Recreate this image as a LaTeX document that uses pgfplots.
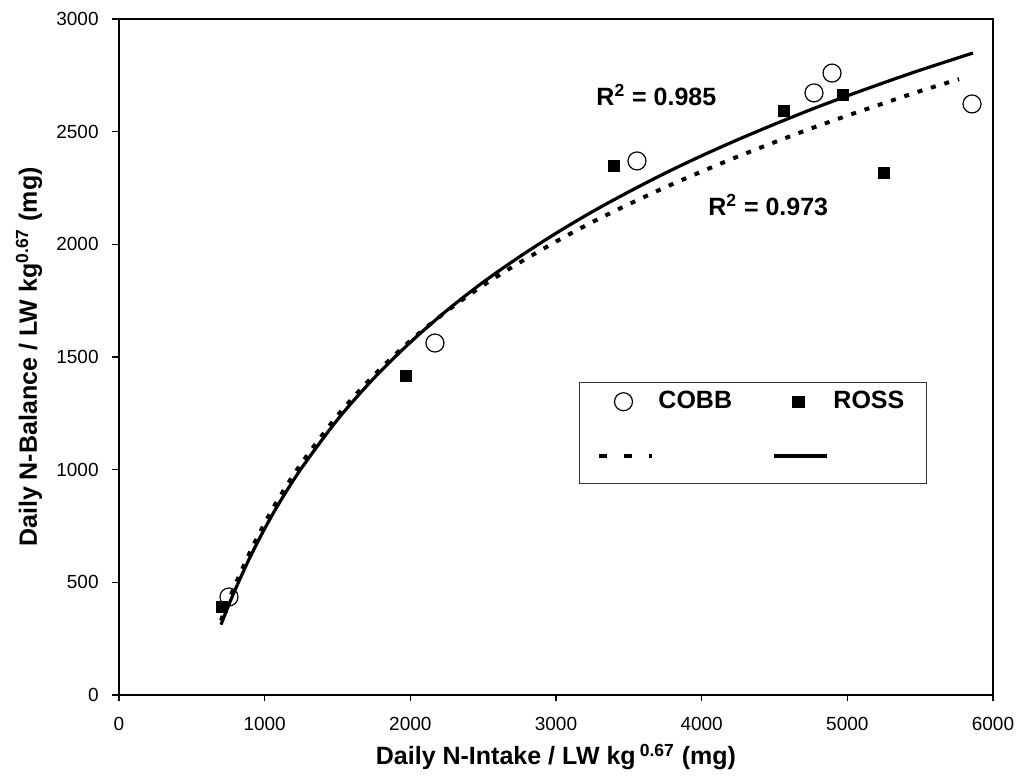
\documentclass[border=0pt]{standalone}
\usepackage{fontspec}
\setmainfont{Liberation Sans}
\usepackage{pgfplots}
\pgfplotsset{compat=1.18}

\newcommand{\boldlabel}{\bfseries\fontsize{12.5}{14}\selectfont}

% legend images: marks centred in a 26.5pt cell, lines across it
\pgfplotsset{
  markimg/.style={legend image code/.code={
    \path[draw=none, fill=none] (0pt,-4.5pt) rectangle (26.5pt,4.5pt);
    \draw[mark repeat=2, mark phase=2, ##1] plot coordinates {(-1pt,0pt) (12pt,0pt) (25pt,0pt)};
  }},
  lineimg/.style={legend image code/.code={
    \path[draw=none, fill=none] (0pt,-9.5pt) rectangle (26.5pt,4pt);
    \draw[##1] (0pt,0pt) -- (26.5pt,0pt);
  }},
}

\begin{document}
\begin{tikzpicture}
\begin{axis}[
  scale only axis,
  width=437pt, height=338pt,
  xmin=0, xmax=6000, ymin=0, ymax=3000,
  xtick={0,1000,...,6000}, ytick={0,500,...,3000},
  xtick pos=left, ytick pos=left,
  tick align=outside,
  major tick length=3.25pt,
  axis line style={line width=0.8pt},
  tick style={line width=0.8pt, black},
  /pgf/number format/assume math mode=true,
  /pgf/number format/1000 sep={},
  ticklabel style={font=\fontsize{9.5}{11}\selectfont, inner sep=0pt},
  xticklabel style={anchor=north, yshift=-7.5pt},
  yticklabel style={anchor=east, xshift=-6.75pt},
  xlabel={Daily N-Intake / LW kg\,\textsuperscript{0.67} (mg)},
  ylabel={Daily N-Balance / LW kg\textsuperscript{0.67} (mg)},
  label style={font=\boldlabel},
  xlabel style={at={([yshift=-31pt]axis description cs:0.5,0)}, anchor=center},
  ylabel style={at={([xshift=-45pt]axis description cs:0,0.5)}, anchor=center},
  legend columns=2,
  legend style={
    at={(0.5263,0.463)}, anchor=north west,
    draw=black!80, line width=0.5pt,
    inner xsep=9pt, inner ysep=4.5pt,
    column sep=2pt, row sep=18pt,
    /tikz/every even column/.append style={column sep=19.5pt},
    nodes={inner sep=0pt, text width=37.5pt, align=left, font=\boldlabel},
  },
]

% fitted trend curves
\addplot[black, line width=2pt, dash pattern=on 2.5pt off 4.5pt, smooth, forget plot]
  coordinates {
    (700,330) (750,414) (800,492) (900,635) (1000,762) (1100,876)
    (1250,1026) (1500,1240) (1750,1419) (2000,1572) (2250,1703)
    (2500,1818) (2750,1919) (3000,2012) (3250,2099) (3500,2178)
    (3750,2253) (4000,2323) (4250,2390) (4500,2453) (4750,2514)
    (5000,2571) (5250,2626) (5500,2680) (5767,2733)
  };
\addplot[black, line width=1.6pt, smooth, forget plot]
  coordinates {
    (700,312) (750,394) (800,471) (900,612) (1000,738) (1100,852)
    (1250,1004) (1500,1222) (1750,1406) (2000,1565) (2250,1706)
    (2500,1832) (2750,1945) (3000,2049) (3250,2145) (3500,2233)
    (3750,2316) (4000,2393) (4250,2465) (4500,2533) (4750,2598)
    (5000,2659) (5250,2717) (5500,2773) (5863,2849)
  };

% COBB
\addplot[only marks, mark=o, mark size=4.5pt, mark options={line width=0.6pt, black}, markimg]
  coordinates {
    (755,435) (2169,1562) (3556,2370) (4771,2672) (4895,2760) (5856,2623)
  };
\addlegendentry{COBB}

% ROSS
\addplot[only marks, mark=square*, mark size=2.8pt, mark options={black}, markimg]
  coordinates {
    (707,391) (1970,1416) (3398,2348) (4565,2592) (4970,2663) (5252,2317)
  };
\addlegendentry{ROSS}

\addlegendimage{black, line width=2pt, dash pattern=on 4pt off 8.5pt, lineimg}
\addlegendentry{}
\addlegendimage{black, line width=2pt, lineimg}
\addlegendentry{}

\node[anchor=west, inner sep=0pt, font=\boldlabel] at (axis cs:3275,2663) {R\textsuperscript{2} = 0.985};
\node[anchor=west, inner sep=0pt, font=\boldlabel] at (axis cs:4043,2175) {R\textsuperscript{2} = 0.973};
\end{axis}
\useasboundingbox ([shift={(-59.5pt,-42.5pt)}]current axis.south west)
  rectangle ([shift={(13pt,9.5pt)}]current axis.north east);
\end{tikzpicture}
\end{document}
